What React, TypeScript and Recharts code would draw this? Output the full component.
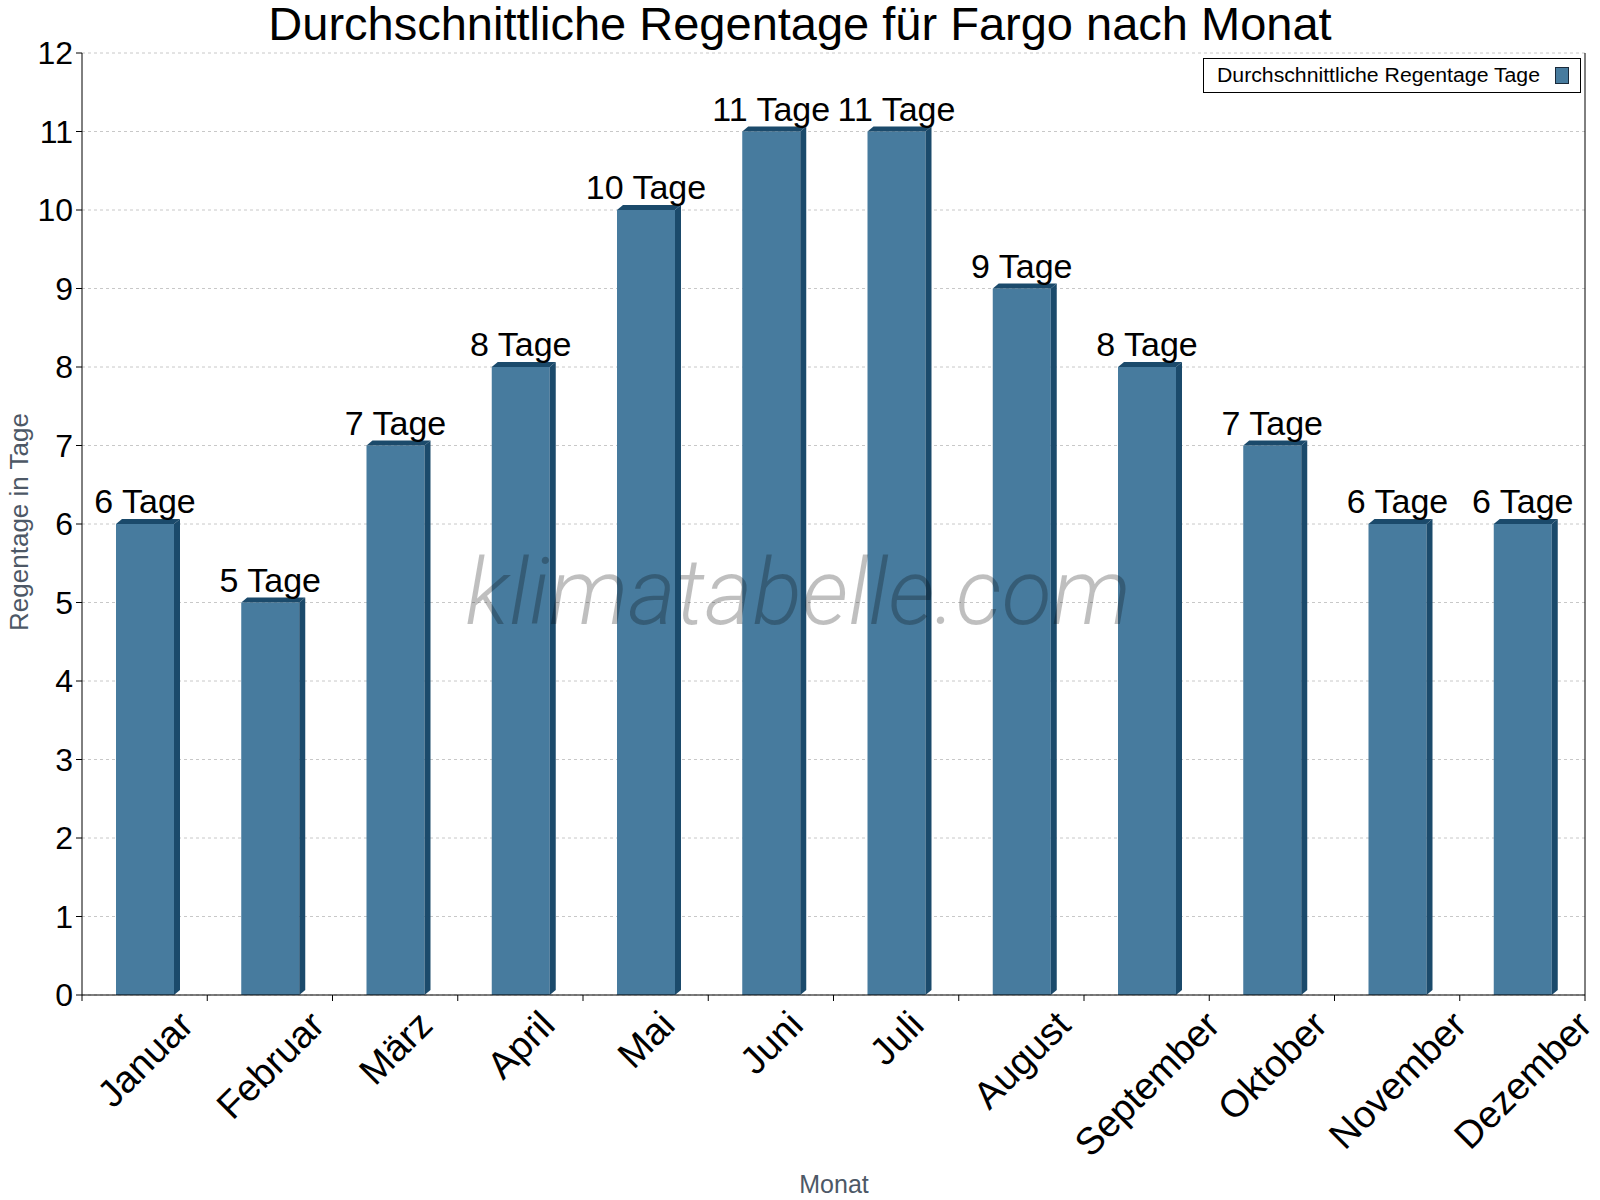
import React from 'react';
import { BarChart, Bar, XAxis, YAxis, CartesianGrid, LabelList, Legend } from 'recharts';

const months = [
  'Januar', 'Februar', 'März', 'April', 'Mai', 'Juni',
  'Juli', 'August', 'September', 'Oktober', 'November', 'Dezember',
];
const rainDays = [6, 5, 7, 8, 10, 11, 11, 9, 8, 7, 6, 6];
const dayTicks = [0, 1, 2, 3, 4, 5, 6, 7, 8, 9, 10, 11, 12];

const data = months.map((month, i) => ({ month, days: rainDays[i] }));

const WIDTH = 1600;
const HEIGHT = 1200;
const PLOT_LEFT = 82;
const PLOT_RIGHT = 1585;
const PLOT_TOP = 53;
const PLOT_BOTTOM = 995;
const BAND = (PLOT_RIGHT - PLOT_LEFT) / months.length;

const FONT = '"Liberation Sans", Arial, Helvetica, sans-serif';
const FRONT = '#477b9e';
const DARK = '#1b4a6b';
const AXIS_TITLE = '#4d5866';
const DEPTH_X = 6;
const DEPTH_Y = 5;

let ctx: CanvasRenderingContext2D | null = null;
const textWidth = (s: string, size: number) => {
  if (!ctx) ctx = document.createElement('canvas').getContext('2d');
  if (!ctx) return s.length * size * 0.55;
  ctx.font = `${size}px ${FONT}`;
  return ctx.measureText(s).width;
};

// front face plus a thin extruded side and top
const Bar3D = (props: any) => {
  const { x, y, width, height } = props;
  const r = x + width;
  const b = y + height;
  return (
    <g>
      <rect x={x} y={y} width={width} height={height} fill={FRONT} />
      <polygon
        points={`${r},${y} ${r + DEPTH_X},${y - DEPTH_Y} ${r + DEPTH_X},${b - DEPTH_Y} ${r},${b}`}
        fill={DARK}
      />
      <polygon
        points={`${x},${y} ${x + DEPTH_X},${y - DEPTH_Y} ${r + DEPTH_X},${y - DEPTH_Y} ${r},${y}`}
        fill={DARK}
      />
    </g>
  );
};

const DayLabel = (props: any) => {
  const { x, y, width, value } = props;
  return (
    <text x={x + width / 2} y={y - 11} textAnchor="middle" fontSize={34} fontFamily={FONT} fill="#000">
      {`${value} Tage`}
    </text>
  );
};

// rotated month names, box top just under the axis; tick marks sit on band edges
const MonthTick = (props: any) => {
  const { x, payload, index } = props;
  const size = 38;
  const w = textWidth(payload.value, size);
  const cap = size * 0.716;
  const cy = PLOT_BOTTOM + 13 + 0.707 * (w / 2 + cap / 2);
  return (
    <g>
      <line x1={x - BAND / 2} x2={x - BAND / 2} y1={PLOT_BOTTOM} y2={PLOT_BOTTOM + 6} stroke="#000" />
      {index === months.length - 1 && (
        <line x1={x + BAND / 2} x2={x + BAND / 2} y1={PLOT_BOTTOM} y2={PLOT_BOTTOM + 6} stroke="#000" />
      )}
      <text
        transform={`translate(${x},${cy}) rotate(-45)`}
        textAnchor="middle"
        dy={cap / 2}
        fontSize={size}
        fontFamily={FONT}
        fill="#000"
      >
        {payload.value}
      </text>
    </g>
  );
};

const LegendBox = () => (
  <svg width={378} height={35}>
    <rect x={0.5} y={0.5} width={377} height={34} fill="#fff" stroke="#000" />
    <text
      x={14}
      y={24}
      fontSize={19.5}
      fontFamily={FONT}
      fill="#000"
      textLength={323}
      lengthAdjust="spacingAndGlyphs"
    >
      Durchschnittliche Regentage Tage
    </text>
    <rect x={352.5} y={9.5} width={13} height={16} fill={FRONT} stroke="#1a2a3a" />
  </svg>
);

export default function App() {
  return (
    <div style={{ position: 'absolute', left: 0, top: 0, width: WIDTH, height: HEIGHT, background: '#fff' }}>
      <BarChart
        width={WIDTH}
        height={HEIGHT}
        data={data}
        margin={{ top: PLOT_TOP, right: WIDTH - PLOT_RIGHT - 1, bottom: 0, left: 0 }}
      >
        <CartesianGrid vertical={false} stroke="#c8c8c8" strokeDasharray="3 3" />
        <XAxis
          dataKey="month"
          interval={0}
          height={HEIGHT - PLOT_BOTTOM}
          tickLine={false}
          axisLine={{ stroke: '#000' }}
          tick={<MonthTick />}
        />
        <YAxis
          width={PLOT_LEFT}
          domain={[0, 12]}
          ticks={dayTicks}
          interval={0}
          tickSize={6}
          tickMargin={3}
          axisLine={{ stroke: '#000' }}
          tickLine={{ stroke: '#000' }}
          tick={{ fill: '#000', fontSize: 32, fontFamily: FONT }}
        />
        <YAxis
          yAxisId="right"
          orientation="right"
          width={1}
          domain={[0, 12]}
          tick={false}
          tickLine={false}
          axisLine={{ stroke: '#000' }}
        />
        <Legend
          layout="horizontal"
          verticalAlign="middle"
          align="center"
          content={<LegendBox />}
          wrapperStyle={{ left: 1203, top: 58, width: 378, height: 35 }}
        />
        <Bar dataKey="days" barSize={58} shape={<Bar3D />} isAnimationActive={false}>
          <LabelList dataKey="days" content={<DayLabel />} />
        </Bar>
      </BarChart>
      <svg
        width={WIDTH}
        height={HEIGHT}
        style={{ position: 'absolute', left: 0, top: 0, pointerEvents: 'none' }}
      >
        <text x={800} y={40} textAnchor="middle" fontSize={47} fontFamily={FONT} fill="#000">
          Durchschnittliche Regentage für Fargo nach Monat
        </text>
        <text
          transform="translate(28,522) rotate(-90)"
          textAnchor="middle"
          fontSize={26}
          fontFamily={FONT}
          fill={AXIS_TITLE}
        >
          Regentage in Tage
        </text>
        <text x={834} y={1193} textAnchor="middle" fontSize={25} fontFamily={FONT} fill={AXIS_TITLE}>
          Monat
        </text>
        <text
          x={798}
          y={624}
          textAnchor="middle"
          fontSize={92}
          fontFamily="Roboto, 'Open Sans', sans-serif"
          fontWeight={300}
          fontStyle="italic"
          fill="#000"
          fillOpacity={0.25}
        >
          klimatabelle.com
        </text>
      </svg>
    </div>
  );
}
